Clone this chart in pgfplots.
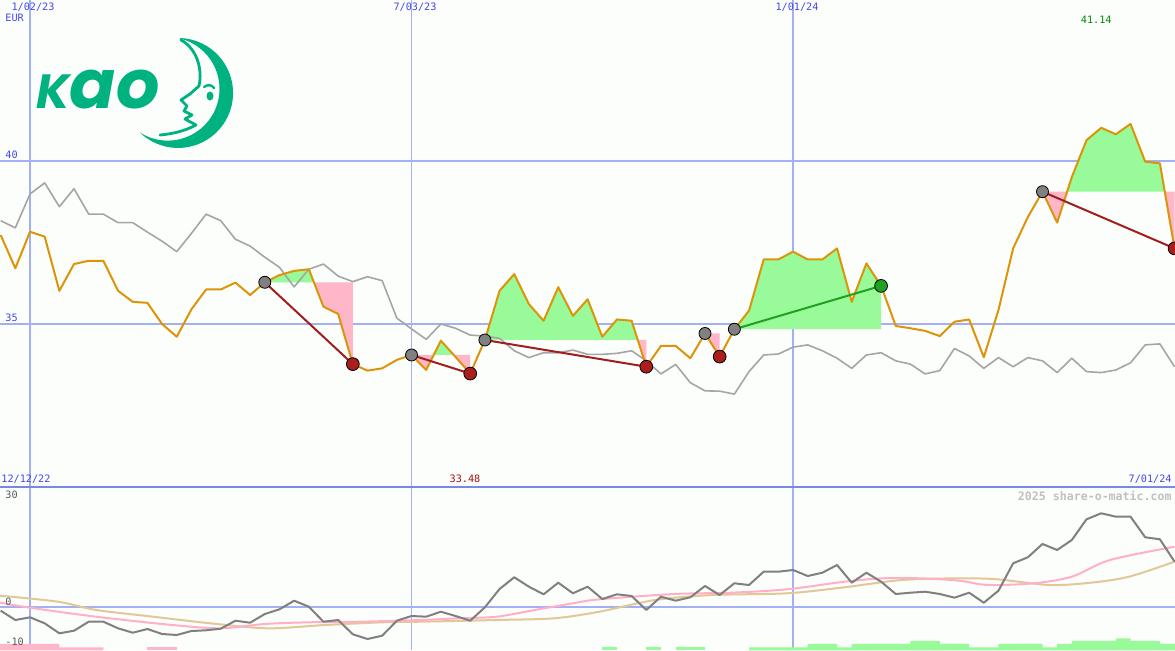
\documentclass[border=0pt]{standalone}
\usepackage{pgfplots}
\pgfplotsset{compat=1.18}
\usepackage{fontspec}
\setmainfont{DejaVu Sans Mono}
\newfontfamily\logofont{Poppins}
\definecolor{bgc}{RGB}{252,254,252}
\definecolor{gridc}{RGB}{164,176,244}
\definecolor{sepc}{RGB}{120,136,232}
\definecolor{labblue}{RGB}{70,70,235}
\definecolor{orangec}{RGB}{220,148,8}
\definecolor{grayc}{RGB}{165,165,165}
\definecolor{gfill}{RGB}{152,250,152}
\definecolor{pfill}{RGB}{255,182,200}
\definecolor{dred}{RGB}{160,30,30}
\definecolor{mred}{RGB}{170,30,30}
\definecolor{mgray}{RGB}{128,128,128}
\definecolor{dgreen}{RGB}{34,160,34}
\definecolor{kaogreen}{RGB}{0,178,128}
\definecolor{lgray}{RGB}{128,128,128}
\definecolor{lpink}{RGB}{255,176,200}
\definecolor{ltan}{RGB}{226,200,150}
\definecolor{wm}{RGB}{192,192,192}
\definecolor{numgray}{RGB}{90,90,90}
\definecolor{hired}{RGB}{160,20,20}
\definecolor{higreen}{RGB}{0,140,0}

\pgfplotstableread{
k v
-2 37.73
-1 36.71
0 37.83
1 37.68
2 36.02
3 36.84
4 36.94
5 36.94
6 36.02
7 35.68
8 35.65
9 35.00
10 34.61
11 35.45
12 36.06
13 36.06
14 36.27
15 35.89
16 36.28
17 36.50
18 36.63
19 36.68
20 35.53
21 35.31
22 33.77
23 33.57
24 33.64
25 33.90
26 34.05
27 33.59
28 34.49
29 33.99
30 33.48
31 34.51
32 36.02
33 36.53
34 35.61
35 35.10
36 36.13
37 35.25
38 35.76
39 34.61
40 35.14
41 35.10
42 33.69
43 34.33
44 34.33
45 33.95
46 34.71
47 34.00
48 34.84
49 35.41
50 36.98
51 36.98
52 37.22
53 36.98
54 36.98
55 37.32
56 35.68
57 36.86
58 36.17
59 34.94
60 34.87
61 34.79
62 34.63
63 35.07
64 35.14
65 33.98
66 35.43
67 37.32
68 38.28
69 39.06
70 38.11
71 39.51
72 40.64
73 41.02
74 40.82
75 41.14
76 39.98
77 39.93
78 37.32
}\pricetab

\pgfplotstableread{
k v
-2 38.17
-1 37.95
0 38.99
1 39.33
2 38.60
3 39.15
4 38.37
5 38.37
6 38.11
7 38.11
8 37.82
9 37.54
10 37.22
11 37.78
12 38.37
13 38.17
14 37.60
15 37.39
16 37.05
17 36.74
18 36.14
19 36.68
20 36.84
21 36.47
22 36.30
23 36.45
24 36.33
25 35.18
26 34.85
27 34.53
28 35.00
29 34.87
30 34.66
31 34.63
32 34.56
33 34.18
34 33.97
35 34.12
36 34.12
37 34.20
38 34.07
39 34.07
40 34.10
41 34.18
42 33.87
43 33.47
44 33.76
45 33.20
46 32.95
47 32.94
48 32.85
49 33.54
50 34.05
51 34.08
52 34.29
53 34.36
54 34.18
55 33.95
56 33.64
57 34.05
58 34.12
59 33.87
60 33.77
61 33.47
62 33.57
63 34.25
64 34.02
65 33.64
66 33.97
67 33.69
68 33.97
69 33.87
70 33.51
71 33.95
72 33.54
73 33.51
74 33.59
75 33.81
76 34.36
77 34.39
78 33.69
}\reftab

\pgfplotstableread{
k v
-2 -0.99
-1 -3.48
0 -2.76
1 -4.37
2 -7.05
3 -6.35
4 -3.94
5 -3.94
6 -5.71
7 -6.88
8 -5.89
9 -7.23
10 -7.50
11 -6.43
12 -6.24
13 -5.81
14 -3.67
15 -4.21
16 -1.88
17 -0.62
18 1.69
19 0.08
20 -3.94
21 -3.48
22 -7.31
23 -8.57
24 -7.69
25 -3.67
26 -2.41
27 -2.60
28 -1.26
29 -2.41
30 -3.67
31 -0.08
32 4.82
33 7.96
34 5.44
35 3.40
36 6.51
37 3.67
38 5.44
39 2.14
40 3.40
41 2.95
42 -0.80
43 2.76
44 1.69
45 2.60
46 5.63
47 3.21
48 6.35
49 5.89
50 9.46
51 9.46
52 9.91
53 8.30
54 9.19
55 11.25
56 6.51
57 9.19
58 6.78
59 3.48
60 3.83
61 4.10
62 3.48
63 2.49
64 3.83
65 1.15
66 4.37
67 11.71
68 13.31
69 16.88
70 15.27
71 17.95
72 23.49
73 25.10
74 24.19
75 24.19
76 18.67
77 18.14
78 12.14
}\momtab

\begin{document}
\begin{tikzpicture}
\begin{axis}[name=top, at={(0,0)}, anchor=north west, scale only axis,
  width=587.5pt, height=243.5pt,
  xmin=-2.045, xmax=78.03, ymin=30.0, ymax=44.94,
  axis line style={draw=none}, ticks=none,
  axis background/.style={fill=bgc}]
  % grid
  \draw[gridc, line width=1pt] (axis cs:-2.045,40) -- (axis cs:78.03,40);
  \draw[gridc, line width=1pt] (axis cs:-2.045,35) -- (axis cs:78.03,35);
  \draw[gridc, line width=0.6pt] (axis cs:0,30) -- (axis cs:0,44.94);
  \draw[gridc, line width=0.6pt] (axis cs:26,30) -- (axis cs:26,44.94);
  \draw[gridc, line width=0.6pt] (axis cs:52,30) -- (axis cs:52,44.94);
  % trade fills
  \addplot[fill=gfill, draw=none] coordinates {(16,36.28) (17,36.50) (18,36.63) (19,36.68) (19.35,36.28)} -- cycle;
  \addplot[fill=pfill, draw=none] coordinates {(19.35,36.28) (20,35.53) (21,35.31) (22,33.77) (22,36.28)} -- cycle;
  \addplot[fill=pfill, draw=none] coordinates {(26,34.05) (27,33.59) (27.51,34.05)} -- cycle;
  \addplot[fill=gfill, draw=none] coordinates {(27.51,34.05) (28,34.49) (28.88,34.05)} -- cycle;
  \addplot[fill=pfill, draw=none] coordinates {(28.88,34.05) (29,33.99) (30,33.48) (30,34.05)} -- cycle;
  \addplot[fill=gfill, draw=none] coordinates {(31,34.51) (32,36.02) (33,36.53) (34,35.61) (35,35.10) (36,36.13) (37,35.25) (38,35.76) (39,34.61) (40,35.14) (41,35.10) (41.42,34.51)} -- cycle;
  \addplot[fill=pfill, draw=none] coordinates {(41.42,34.51) (42,33.69) (42,34.51)} -- cycle;
  \addplot[fill=pfill, draw=none] coordinates {(46,34.71) (47,34.00) (47,34.71)} -- cycle;
  \addplot[fill=gfill, draw=none] coordinates {(48,34.84) (49,35.41) (50,36.98) (51,36.98) (52,37.22) (53,36.98) (54,36.98) (55,37.32) (56,35.68) (57,36.86) (58,36.17) (58,34.84)} -- cycle;
  \addplot[fill=pfill, draw=none] coordinates {(69,39.06) (70,38.11) (70.68,39.06)} -- cycle;
  \addplot[fill=gfill, draw=none] coordinates {(70.68,39.06) (71,39.51) (72,40.64) (73,41.02) (74,40.82) (75,41.14) (76,39.98) (77,39.93) (77.33,39.06)} -- cycle;
  \addplot[fill=pfill, draw=none] coordinates {(77.33,39.06) (78,37.32) (78,39.06)} -- cycle;
  % reference line
  \addplot[grayc, line width=0.8pt, line join=round] table[x=k, y=v] {\reftab};
  % buy markers
  \addplot[only marks, mark=*, mark size=3pt, mark options={draw=none, fill=mgray}] coordinates {(16,36.28) (26,34.05) (31,34.51) (46,34.71) (48,34.84) (69,39.06)};
  % price line
  \addplot[orangec, line width=1pt, line join=round] table[x=k, y=v] {\pricetab};
  % trade lines
  \addplot[dred, line width=1pt] coordinates {(16,36.28) (22,33.77)};
  \addplot[dred, line width=1pt] coordinates {(26,34.05) (30,33.48)};
  \addplot[dred, line width=1pt] coordinates {(31,34.51) (42,33.69)};
  \addplot[dred, line width=1pt] coordinates {(69,39.06) (78,37.32)};
  \addplot[dgreen, line width=1pt] coordinates {(48,34.84) (58,36.17)};
  % sell markers
  \addplot[only marks, mark=*, mark size=3.2pt, mark options={draw=none, fill=mred}] coordinates {(22,33.77) (30,33.48) (42,33.69) (47,34.00) (78,37.32)};
  \addplot[only marks, mark=*, mark size=3.2pt, mark options={draw=none, fill=dgreen}] coordinates {(58,36.17)};
\end{axis}

\begin{axis}[name=bot, at={(top.south west)}, anchor=north west, scale only axis,
  width=587.5pt, height=81.5pt,
  xmin=-2.045, xmax=78.03, ymin=-11.52, ymax=32.14,
  axis line style={draw=none}, ticks=none,
  axis background/.style={fill=bgc}]
  \draw[gridc, line width=1pt] (axis cs:-2.045,0) -- (axis cs:78.03,0);
  \draw[gridc, line width=0.6pt] (axis cs:0,-11.52) -- (axis cs:0,32.14);
  \draw[gridc, line width=0.6pt] (axis cs:26,-11.52) -- (axis cs:26,32.14);
  \draw[gridc, line width=0.6pt] (axis cs:52,-11.52) -- (axis cs:52,32.14);
  % histogram bars
  \addplot[fill=pfill, draw=none] coordinates {(-2.1,-11.6) (-2.1,-9.9) (2,-9.9) (2,-10.8) (5,-10.8) (5,-11.6)} -- cycle;
  \addplot[fill=pfill, draw=none] coordinates {(8,-11.6) (8,-10.8) (10,-10.8) (10,-11.6)} -- cycle;
  \addplot[fill=gfill, draw=none] coordinates {(39,-11.6) (39,-10.8) (40,-10.8) (40,-11.6)} -- cycle;
  \addplot[fill=gfill, draw=none] coordinates {(42,-11.6) (42,-10.8) (43,-10.8) (43,-11.6)} -- cycle;
  \addplot[fill=gfill, draw=none] coordinates {(44,-11.6) (44,-10.8) (46,-10.8) (46,-11.6)} -- cycle;
  \addplot[fill=gfill, draw=none] coordinates {(49,-11.6) (49,-10.8) (53,-10.8) (53,-9.9) (55,-9.9) (55,-10.8) (56,-10.8) (56,-9.9) (60,-9.9) (60,-9.1) (62,-9.1) (62,-9.9) (64,-9.9) (64,-10.8) (66,-10.8) (66,-9.9) (69,-9.9) (69,-10.8) (70,-10.8) (70,-9.9) (71,-9.9) (71,-9.1) (74,-9.1) (74,-8.4) (75,-8.4) (75,-9.1) (77,-9.1) (77,-9.9) (78.1,-9.9) (78.1,-11.6)} -- cycle;
  % smooth averages
  \addplot[ltan, line width=1pt, smooth] coordinates {(-2.04,3.03) (1.9,1.42) (4.5,-0.8) (8.4,-2.6) (12.3,-4.37) (16.2,-5.71) (20.1,-4.82) (24,-4.1) (26.6,-3.94) (31.8,-3.48) (35.7,-3.03) (38.8,-1.26) (42.6,1.88) (46.5,3.21) (51.6,3.67) (55.5,5.28) (59.4,7.23) (63.3,7.68) (65.9,7.42) (69.5,5.89) (72.3,6.51) (74.9,8.12) (78,12.14)};
  \addplot[lpink, line width=1pt, smooth] coordinates {(-2.04,1.15) (0,-0.19) (4.5,-2.6) (9.7,-4.82) (13,-5.71) (16,-4.55) (19,-4.1) (22.5,-3.94) (26.6,-3.48) (29.2,-3.03) (31.8,-2.6) (34.4,-0.8) (37,0.99) (38.8,2.06) (43.9,3.48) (47.8,3.83) (51.6,4.74) (55.5,6.78) (58.1,7.68) (60.7,7.68) (63.3,7.05) (65.3,5.89) (68.4,6.35) (71,8.12) (73.6,12.59) (78,16.15)};
  \addplot[lgray, line width=1pt, line join=round] table[x=k, y=v] {\momtab};
\end{axis}

% labels in pixel coordinates (y downwards)
\begin{scope}[shift={(top.north west)}, x=0.5pt, y=-0.5pt,
  every node/.style={inner sep=0pt, font=\fontsize{5.1pt}{6pt}\selectfont}]
  \draw[sepc, line width=1.4pt] (0,487) -- (1175,487);
  \node[text=labblue] at (33,7.5) {1/02/23};
  \node[text=labblue] at (415,7.5) {7/03/23};
  \node[text=labblue] at (797,7.5) {1/01/24};
  \node[text=labblue, anchor=west] at (5,18) {EUR};
  \node[text=labblue, anchor=west] at (5,155) {40};
  \node[text=labblue, anchor=west] at (5,318) {35};
  \node[text=higreen, anchor=east] at (1112,20) {41.14};
  \node[text=labblue, anchor=west] at (1,479) {12/12/22};
  \node[text=hired] at (465,479) {33.48};
  \node[text=labblue, anchor=east] at (1172,479) {7/01/24};
  \node[text=wm, anchor=east, font=\fontsize{5.8pt}{7pt}\selectfont\bfseries] at (1172,496) {2025 share-o-matic.com};
  \node[text=numgray, anchor=west] at (5,495) {30};
  \node[text=numgray, anchor=west] at (5,602) {0};
  \node[text=numgray, anchor=west] at (5,642) {-10};
\end{scope}

% logo (pixel coordinates, y upwards)
\begin{scope}[shift={(top.north west)}, x=0.5pt, y=0.5pt]
  \fill[kaogreen] (180,-38) arc[start angle=88, end angle=-134, radius=55]
     arc[start angle=-122.5, end angle=76.5, radius=51.8] -- cycle;
  \draw[kaogreen, line width=1.4pt, line join=round, line cap=round]
     (181,-40) .. controls (196,-48) and (203,-68) .. (199,-86) -- (190,-94) -- (181,-100)
     -- (187,-106) -- (184,-111) -- (192,-115) -- (185,-119) -- (196,-125)
     .. controls (185,-131) and (172,-134) .. (160,-135);
  \fill[kaogreen] (210,-96) ellipse[x radius=3.5, y radius=4.5];
  \draw[kaogreen, line width=1.2pt, line cap=round] (204,-87) .. controls (208,-84) and (212,-85) .. (214,-88);
  \node[anchor=base west, inner sep=0pt, text=kaogreen] at (36,-108)
     {\logofont\bfseries\itshape\fontsize{24pt}{24pt}\selectfont K\fontsize{34pt}{34pt}\selectfont ao};
\end{scope}
\pgfresetboundingbox
\path[use as bounding box] (top.north west) rectangle (bot.south east);
\end{tikzpicture}
\end{document}
